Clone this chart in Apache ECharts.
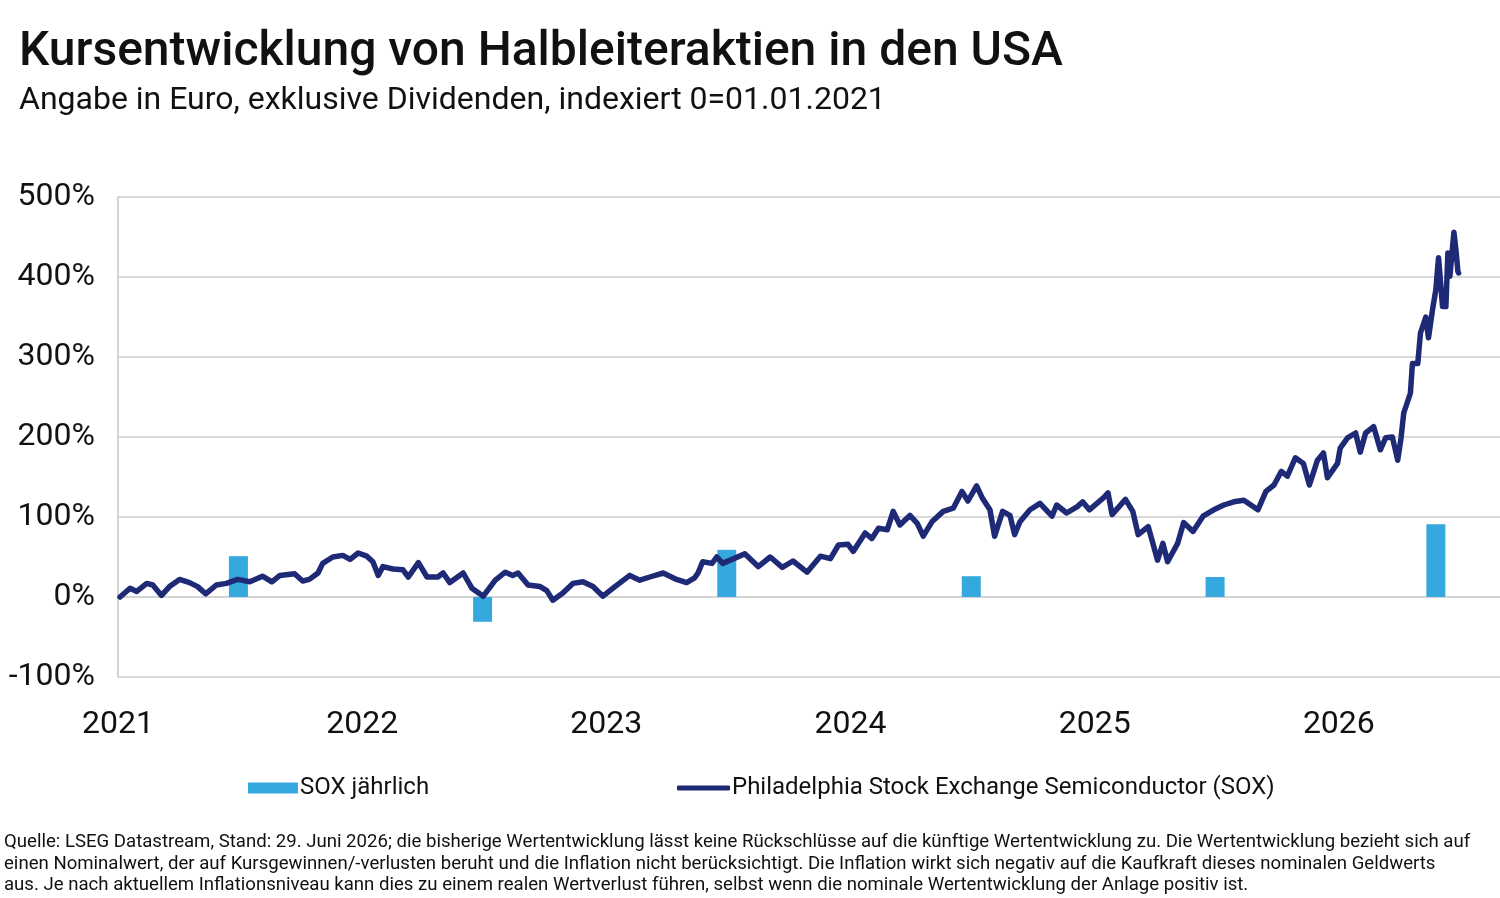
<!DOCTYPE html>
<html>
<head>
<meta charset="utf-8">
<script src="https://cdn.jsdelivr.net/npm/echarts@6/dist/echarts.min.js"></script>
<style>
html,body{margin:0;padding:0;background:#fff;}
#main{width:1500px;height:898px;}
</style>
</head>
<body>
<div id="main"></div>
<script>
// Kurs SOX, indexiert (in %)
var soxDates = ['2021-01-04','2021-01-19','2021-01-29','2021-02-13','2021-02-22','2021-03-07','2021-03-19','2021-04-03','2021-04-18','2021-04-30',
	'2021-05-12','2021-05-28','2021-06-12','2021-06-29','2021-07-17','2021-08-05','2021-08-19','2021-08-31','2021-09-22','2021-10-04',
	'2021-10-14','2021-10-27','2021-11-03','2021-11-18','2021-12-03','2021-12-14','2021-12-26','2022-01-08','2022-01-17','2022-01-25',
	'2022-02-01','2022-02-16','2022-03-03','2022-03-11','2022-03-26','2022-04-08','2022-04-24','2022-05-02','2022-05-12','2022-06-01',
	'2022-06-14','2022-07-01','2022-07-19','2022-08-03','2022-08-14','2022-08-22','2022-09-06','2022-09-24','2022-10-04','2022-10-13',
	'2022-10-28','2022-11-12','2022-11-27','2022-12-12','2022-12-27','2023-01-11','2023-02-05','2023-02-20','2023-03-07','2023-03-27',
	'2023-04-16','2023-05-01','2023-05-13','2023-05-18','2023-05-25','2023-06-08','2023-06-15','2023-06-24','2023-07-08','2023-07-27',
	'2023-08-16','2023-09-03','2023-09-21','2023-10-07','2023-10-28','2023-11-17','2023-12-02','2023-12-14','2023-12-28','2024-01-05',
	'2024-01-23','2024-02-02','2024-02-12','2024-02-25','2024-03-05','2024-03-15','2024-03-30','2024-04-10','2024-04-19','2024-05-02',
	'2024-05-19','2024-06-03','2024-06-16','2024-06-25','2024-07-08','2024-07-17','2024-07-28','2024-08-04','2024-08-16','2024-08-27',
	'2024-09-03','2024-09-11','2024-09-26','2024-10-11','2024-10-29','2024-11-05','2024-11-20','2024-12-06','2024-12-14','2024-12-24',
	'2025-01-14','2025-01-21','2025-01-27','2025-02-16','2025-02-27','2025-03-07','2025-03-22','2025-04-05','2025-04-13','2025-04-20',
	'2025-05-05','2025-05-14','2025-05-28','2025-06-12','2025-06-28','2025-07-13','2025-07-28','2025-08-12','2025-09-02','2025-09-14',
	'2025-09-26','2025-10-07','2025-10-16','2025-10-28','2025-11-09','2025-11-18','2025-11-30','2025-12-09','2025-12-15','2025-12-30',
	'2026-01-03','2026-01-14','2026-01-26','2026-02-02','2026-02-10','2026-02-22','2026-03-04','2026-03-12','2026-03-22','2026-03-30',
	'2026-04-04','2026-04-08','2026-04-18','2026-04-21','2026-04-29','2026-05-03','2026-05-11','2026-05-15','2026-05-21','2026-05-26',
	'2026-05-30','2026-06-05','2026-06-10','2026-06-13','2026-06-16','2026-06-22','2026-06-25','2026-06-28','2026-06-29'];
var soxValues = [0,11,7,17,15,2,13,22,18,13,
	4,15,17,22,19,26,19,27,29,20,
	22,30,42,50,52,47,55,51,44,27,
	38,35,34,25,43,25,25,30,18,30,
	11,1,21,31,27,30,15,13,8,-4,
	5,17,19,13,1,11,27,21,25,30,
	22,18,24,30,44,42,50,42,47,54,
	38,50,37,45,31,51,48,65,66,57,
	80,73,86,84,107,90,102,92,76,94,
	107,111,132,120,139,123,109,76,107,102,
	78,94,109,117,101,115,105,113,119,109,
	124,130,103,122,107,78,88,46,67,44,
	67,93,82,101,109,115,119,121,109,132,
	140,157,151,174,167,140,171,180,149,167,
	186,199,205,181,205,213,184,199,200,171,
	199,230,255,292,292,330,350,324,359,384,
	424,363,363,430,401,456,434,407,405];

// SOX jährlich (%)
var yearDates = ['2021-06-30','2022-06-30','2023-06-30','2024-06-30','2025-06-30','2026-05-26'];
var yearValues = [51,-31,59,26,25,91];

var yTicks = [-100,0,100,200,300,400,500];
var xYears = [2021,2022,2023,2024,2025,2026];

var FONT = 'Roboto';

function toYear(s){
	var p = s.split('-');
	var y = +p[0];
	var t = Date.UTC(y,+p[1]-1,+p[2]);
	var t0 = Date.UTC(y,0,1), t1 = Date.UTC(y+1,0,1);
	return y + (t-t0)/(t1-t0);
}

var lineData = soxDates.map(function(d,i){ return [toYear(d), soxValues[i]]; });
var barData = yearDates.map(function(d,i){ return [toYear(d), yearValues[i]]; });

var myChart = echarts.init(document.getElementById('main'));

var option = {
	animation:false,
	backgroundColor:'#fff',
	textStyle:{fontFamily:FONT},
	title:[{
		text:'Kursentwicklung von Halbleiteraktien in den USA',
		left:19, top:29, padding:0,
		textStyle:{fontFamily:FONT,fontSize:48,fontWeight:500,color:'#111'}
	},{
		text:'Angabe in Euro, exklusive Dividenden, indexiert 0=01.01.2021',
		left:19, top:85, padding:0,
		textStyle:{fontFamily:FONT,fontSize:32,fontWeight:'normal',color:'#111'}
	},{
		text:'Quelle: LSEG Datastream, Stand: 29. Juni 2026; die bisherige Wertentwicklung lässt keine Rückschlüsse auf die künftige Wertentwicklung zu. Die Wertentwicklung bezieht sich auf\neinen Nominalwert, der auf Kursgewinnen/-verlusten beruht und die Inflation nicht berücksichtigt. Die Inflation wirkt sich negativ auf die Kaufkraft dieses nominalen Geldwerts\naus. Je nach aktuellem Inflationsniveau kann dies zu einem realen Wertverlust führen, selbst wenn die nominale Wertentwicklung der Anlage positiv ist.',
		left:4, top:832, padding:0,
		textStyle:{fontFamily:FONT,fontSize:18.6,fontWeight:'normal',color:'#111',lineHeight:21.5}
	}],
	legend:[{
		left:243, top:771,
		itemWidth:50, itemHeight:11,
		icon:'rect',
		data:['SOX jährlich'],
		textStyle:{fontFamily:FONT,fontSize:24,color:'#111',padding:[0,0,0,-3]}
	},{
		left:672, top:771,
		itemWidth:53, itemHeight:5,
		icon:'roundRect',
		data:['Philadelphia Stock Exchange Semiconductor (SOX)'],
		textStyle:{fontFamily:FONT,fontSize:24,color:'#111',padding:[0,0,0,-3]}
	}],
	grid:{left:118, right:0, top:197, bottom:221, containLabel:false},
	xAxis:{
		type:'value',
		min:2021, max:2026.66, interval:1,
		axisLine:{show:true,lineStyle:{color:'#d4d4d4',width:2}},
		axisTick:{show:false},
		splitLine:{show:false},
		axisLabel:{
			fontFamily:FONT,fontSize:32,color:'#111',margin:32,
			showMaxLabel:false,
			formatter:function(v){ return xYears.indexOf(v) >= 0 ? String(v) : ''; }
		}
	},
	yAxis:{
		type:'value',
		min:yTicks[0], max:yTicks[yTicks.length-1], interval:100,
		axisLine:{show:true,lineStyle:{color:'#d4d4d4',width:2}},
		axisTick:{show:false},
		splitLine:{show:true,lineStyle:{color:'#d9d9d9',width:2}},
		axisLabel:{fontFamily:FONT,fontSize:32,color:'#111',margin:23,formatter:'{value}%'}
	},
	series:[{
		name:'SOX jährlich',
		type:'bar',
		data:barData,
		barWidth:19,
		itemStyle:{color:'#35a8dd'},
		z:2
	},{
		name:'Philadelphia Stock Exchange Semiconductor (SOX)',
		type:'line',
		data:lineData,
		showSymbol:false,
		symbol:'none',
		lineStyle:{color:'#1f2a77',width:5.5,cap:'round',join:'round'},
		itemStyle:{color:'#1f2a77'},
		z:3
	}]
};
myChart.setOption(option);
</script>
</body>
</html>
